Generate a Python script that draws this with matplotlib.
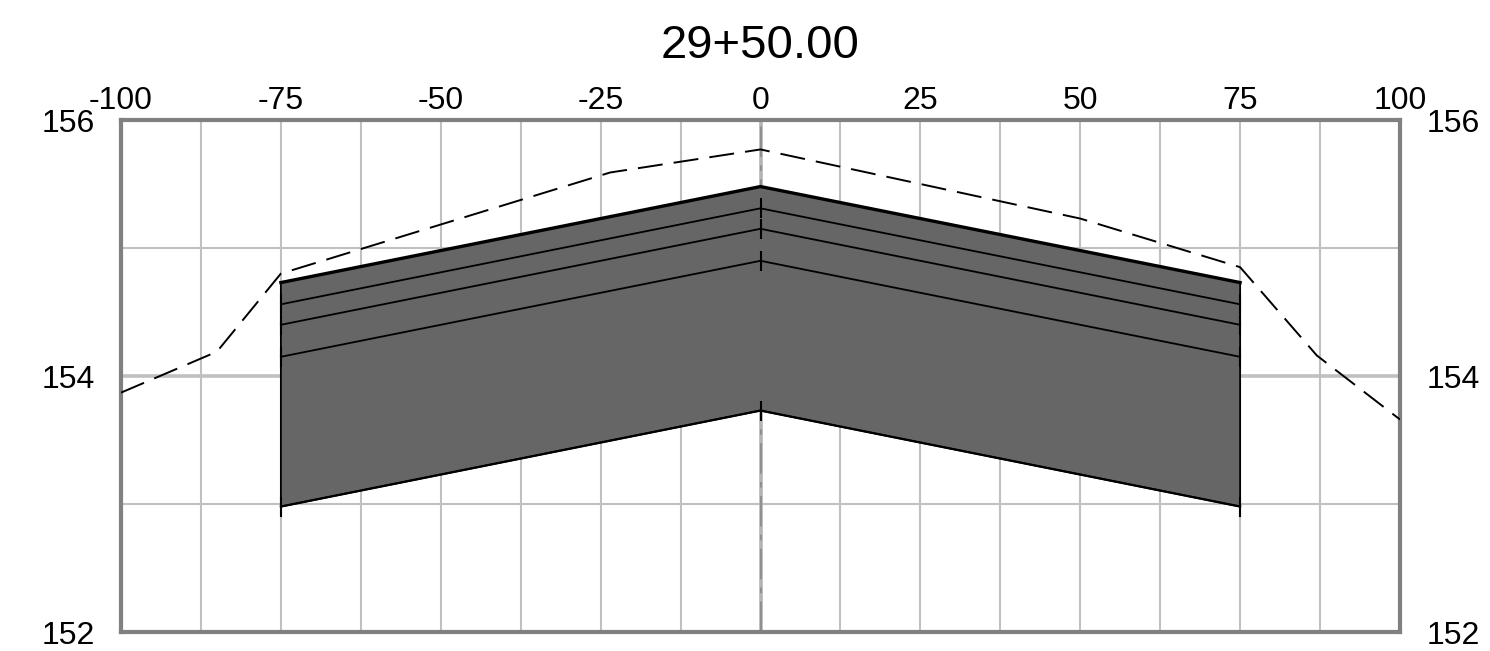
import numpy as np
import matplotlib
matplotlib.use("Agg")
import matplotlib.pyplot as plt

plt.rcParams["font.family"] = ["Liberation Sans", "DejaVu Sans"]
plt.rcParams["lines.scale_dashes"] = False

# ---------------- DATA ----------------
station = "29+50.00"
offsets = [-75, 0, 75]
top_surface = [154.73, 155.48, 154.73]
layer1 = [154.56, 155.31, 154.56]
layer2 = [154.40, 155.15, 154.40]
layer3 = [154.15, 154.90, 154.15]
subgrade = [152.98, 153.73, 152.98]

ground_x = [-100, -85, -75, -23.5, 0, 50, 75, 87, 100]
ground_y = [153.87, 154.19, 154.80, 155.59, 155.77, 155.23, 154.85, 154.16, 153.66]

x_ticks = [-100, -75, -50, -25, 0, 25, 50, 75, 100]
y_ticks = [152, 154, 156]

# ---------------- FIGURE ----------------
fig = plt.figure(figsize=(14.9, 6.51), dpi=100)
ax = fig.add_axes([121 / 1490, 1 - 632 / 651, 1279 / 1490, 512 / 651])
ax.set_xlim(-100, 100)
ax.set_ylim(152, 156)

# grid
ax.set_xticks(x_ticks)
ax.set_xticks(np.arange(-100, 101, 12.5), minor=True)
ax.set_yticks(y_ticks)
ax.set_yticks([153, 155], minor=True)
ax.grid(which="both", axis="x", color="#c0c0c0", lw=1.5)
ax.grid(which="minor", axis="y", color="#c0c0c0", lw=1.5)
ax.grid(which="major", axis="y", color="#c0c0c0", lw=2.6)
ax.set_axisbelow(True)
ax.axvline(0, color="#b4b4b4", lw=2.6, zorder=0.6)
ax.axvline(0, color="#888888", lw=1.2, ls=(0, (22, 6, 4, 6)), zorder=0.7)

# pavement section
sec_x = offsets + offsets[::-1]
sec_y = top_surface + subgrade[::-1]
ax.fill(sec_x, sec_y, facecolor="#666666", edgecolor="black", lw=1.3, zorder=2)
ax.plot(offsets, top_surface, color="black", lw=2.4, zorder=3)
for layer in [layer1, layer2, layer3]:
    ax.plot(offsets, layer, color="black", lw=1.3, marker="|", ms=15, mew=1.5, zorder=3)
ax.plot(offsets, subgrade, color="black", lw=1.6, marker="|", ms=15, mew=1.5, zorder=3)

# existing ground
ax.plot(ground_x, ground_y, color="black", lw=1.4, dashes=(18, 8), zorder=4)

# frame / ticks
for s in ax.spines.values():
    s.set_color("#808080")
    s.set_linewidth(3)
ax.tick_params(which="both", length=0)
ax.tick_params(axis="x", top=True, labeltop=True, bottom=False, labelbottom=False,
               labelsize=23, pad=3)
ax.tick_params(axis="y", left=True, right=True, labelleft=True, labelright=True,
               labelsize=23, pad=19)
ax.set_xticklabels([str(v) for v in x_ticks])
ax.set_yticklabels([str(v) for v in y_ticks])

fig.text(760 / 1490, 1 - 46 / 651, station, ha="center", va="center", fontsize=34)

fig.savefig("out.png", dpi=100)
